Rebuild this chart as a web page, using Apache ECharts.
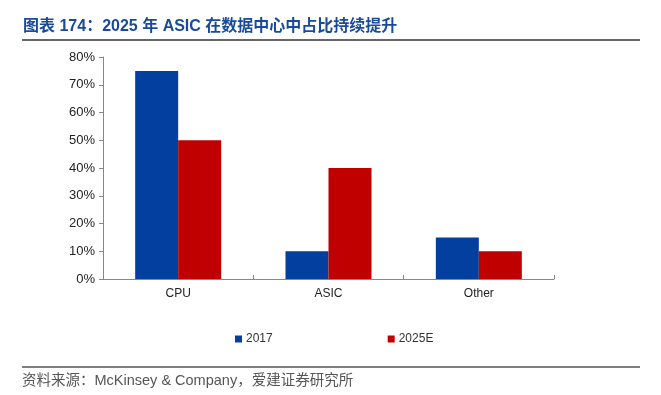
<!DOCTYPE html>
<html><head><meta charset="utf-8">
<script src="https://cdn.jsdelivr.net/npm/echarts@6/dist/echarts.min.js"></script>
<style>html,body{margin:0;padding:0;background:#fff}#c{width:661px;height:395px}</style>
</head><body><div id="c"></div>
<script>
const categories = ['CPU', 'ASIC', 'Other'];
const series2017 = [75, 10, 15];
const series2025E = [50, 40, 10];
const yTicks = [0, 10, 20, 30, 40, 50, 60, 70, 80];

const chart = echarts.init(document.getElementById('c'), null, {renderer: 'canvas'});
const font = 'Arial, "Liberation Sans", "Noto Sans CJK SC", sans-serif';
chart.setOption({
  animation: false,
  textStyle: {fontFamily: font},
  title: {
    text: '图表 174：2025 年 ASIC 在数据中心中占比持续提升',
    left: 18, top: 14,
    textStyle: {fontSize: 16, fontWeight: 'bold', color: '#1a4a9c', fontFamily: font}
  },
  graphic: [
    {type: 'line', shape: {x1: 22, y1: 40, x2: 640, y2: 40}, style: {stroke: '#666', lineWidth: 2}},
    {type: 'line', shape: {x1: 22, y1: 367, x2: 640, y2: 367}, style: {stroke: '#555', lineWidth: 1.5}},
    {type: 'text', left: 22, top: 374, style: {text: '资料来源：McKinsey & Company，爱建证券研究所', fontSize: 14.5, fill: '#555', fontFamily: font}}
  ],
  legend: {
    data: ['2017', '2025E'],
    left: 230, top: 328,
    itemWidth: 7, itemHeight: 7, itemGap: 115,
    icon: 'rect',
    textStyle: {fontSize: 12, color: '#333', padding: [0, 0, 0, -1]}
  },
  grid: {left: 103, right: 107, top: 57, bottom: 116, containLabel: false},
  xAxis: {
    type: 'category', data: categories,
    axisLine: {lineStyle: {color: '#888'}},
    axisTick: {show: true, inside: true, length: 4, lineStyle: {color: '#888'}},
    axisLabel: {fontSize: 12, color: '#222', margin: 9}
  },
  yAxis: {
    type: 'value', min: 0, max: 80, interval: 10,
    axisLine: {show: true, lineStyle: {color: '#888'}},
    axisTick: {show: true, length: 4, lineStyle: {color: '#888'}},
    splitLine: {show: false},
    axisLabel: {fontSize: 13, color: '#222', margin: 8, formatter: v => yTicks.includes(v) ? v + '%' : ''}
  },
  series: [
    {name: '2017', type: 'bar', data: series2017, barWidth: 43, barGap: '0%', itemStyle: {color: '#033f9e'}},
    {name: '2025E', type: 'bar', data: series2025E, barWidth: 43, barGap: '0%', itemStyle: {color: '#c00000'}}
  ]
});
</script></body></html>
